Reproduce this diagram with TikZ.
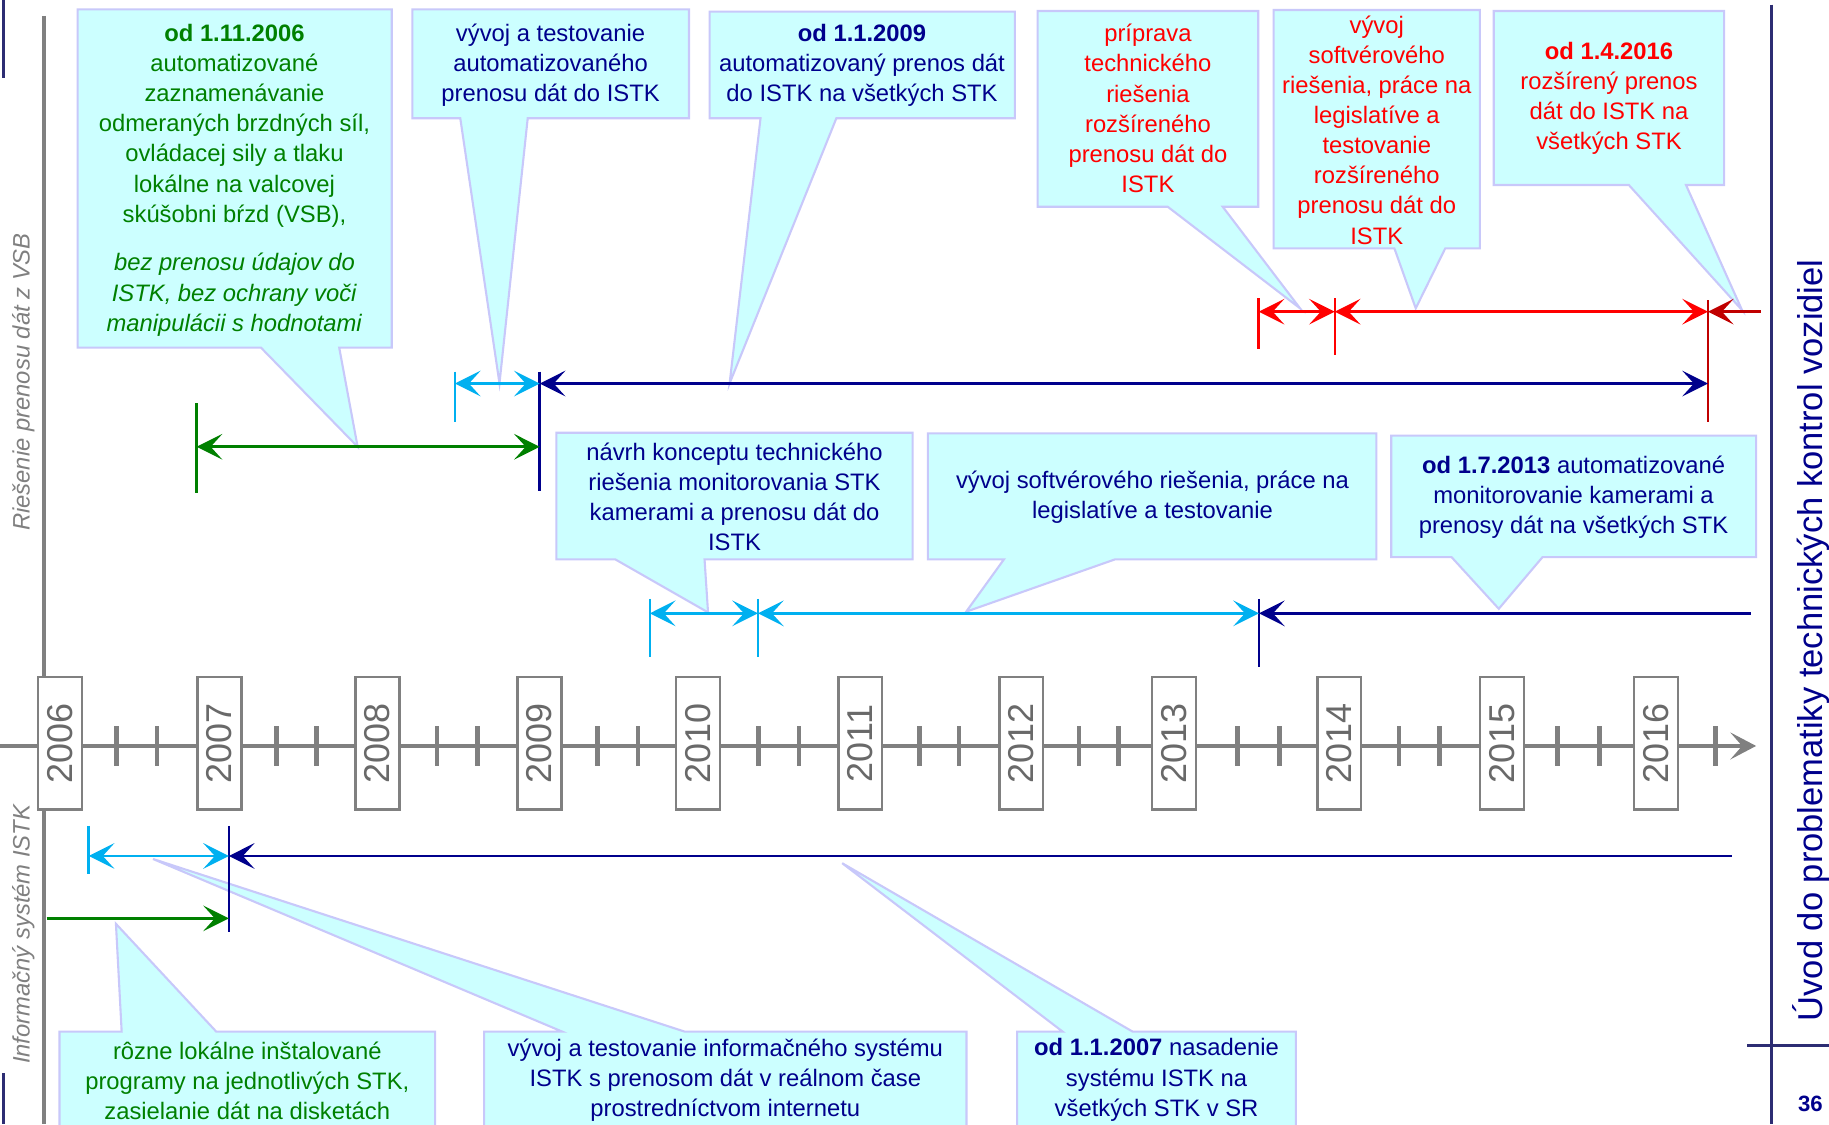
\documentclass[tikz,border=0pt]{standalone}
\usepackage{fontspec}
\setmainfont{Liberation Sans}
\usetikzlibrary{arrows.meta}

\definecolor{calloutfill}{RGB}{204,255,255}
\definecolor{calloutedge}{RGB}{200,200,250}
\definecolor{navy}{RGB}{0,0,140}
\definecolor{dkgreen}{RGB}{0,128,0}
\definecolor{skyblue}{RGB}{0,176,240}
\definecolor{axisgray}{RGB}{128,128,128}
\definecolor{yeartext}{RGB}{105,105,105}
\definecolor{darkred}{RGB}{192,0,0}
\definecolor{framenavy}{RGB}{45,45,115}

\tikzset{
  callout/.style={fill=calloutfill, draw=calloutedge, line width=0.9pt, line join=miter},
  note/.style={align=center, inner sep=0pt, font=\fontsize{10.2}{12.9}\selectfont},
  spanhead/.tip={Stealth[length=11pt,width=11pt,inset=5pt]},
  span/.style={line width=1.1pt},
  endmark/.style={line width=1.1pt},
  yearbox/.style={draw=axisgray, fill=white, line width=1pt, rotate=90,
    minimum width=56.75pt, minimum height=18.75pt, inner sep=0pt,
    text=yeartext, font=\fontsize{15.4}{15.4}\selectfont},
  sidelabel/.style={rotate=90, inner sep=0pt, text=axisgray,
    font=\fontsize{10.2}{12}\selectfont\itshape},
}

\begin{document}
\begin{tikzpicture}[x=0.5pt, y=-0.5pt]
\useasboundingbox (0,0) rectangle (1568,964);
\fill[white] (0,0) rectangle (1568,964);
\clip (0,0) rectangle (1568,964);

% slide frame
\draw[framenavy, line width=1.3pt] (3,0) -- (3,67);
\draw[framenavy, line width=1.3pt] (3,920) -- (3,964);
\draw[framenavy, line width=1.2pt] (1518.7,4) -- (1518.7,964);
\draw[framenavy, line width=1.2pt] (1498,896) -- (1568,896);
\node[font=\fontsize{9.5}{10}\selectfont\bfseries, text=navy, inner sep=0pt] (pgnum) at (1552,946) {36};
\node[rotate=90, inner sep=0pt, text=navy, font=\fontsize{14.8}{16}\selectfont] (title) at (1553,549)
  {Úvod do problematiky technických kontrol vozidiel};

% left separator and row labels
\draw[axisgray, line width=1.85pt] (38,13.7) -- (38,964);
\node[sidelabel] (lblvsb) at (20,327.5) {Riešenie prenosu dát z VSB};
\node[sidelabel] (lblistk) at (20,801) {Informačný systém ISTK};

% ---------- callouts, upper part ----------
\draw[callout] (66.6,8) -- (335.8,8) -- (335.8,298) -- (290.8,298) -- (306.6,383) -- (223.7,298) -- (66.6,298) -- cycle;
\node[note, text=dkgreen] (tA) at (201,154.5) {\textbf{od 1.11.2006}\\automatizované\\zaznamenávanie\\odmeraných brzdných síl,\\ovládacej sily a tlaku\\lokálne na valcovej\\skúšobni bŕzd (VSB),\\[8pt]\textit{bez prenosu údajov do}\\\textit{ISTK, bez ochrany voči}\\\textit{manipulácii s hodnotami}};

\draw[callout] (353.5,8) -- (590.7,8) -- (590.7,101.4) -- (452.4,101.4) -- (428.2,328.6) -- (394.6,101.4) -- (353.5,101.4) -- cycle;
\node[note, text=navy] (tB) at (472,56) {vývoj a testovanie\\automatizovaného\\prenosu dát do ISTK};

\draw[callout] (608.4,10) -- (870,10) -- (870,101.4) -- (717,101.4) -- (625.5,328.6) -- (652,101.4) -- (608.4,101.4) -- cycle;
\node[note, text=navy] (tC) at (739,56) {\textbf{od 1.1.2009}\\automatizovaný prenos dát\\do ISTK na všetkých STK};

\draw[callout] (889.5,9.4) -- (1078.7,9.4) -- (1078.7,177.2) -- (1048.2,177.2) -- (1114.5,264.3) -- (1001,177.2) -- (889.5,177.2) -- cycle;
\node[note, text=red] (tD) at (984.1,93) {príprava\\technického\\riešenia\\rozšíreného\\prenosu dát do\\ISTK};

\draw[callout] (1091.8,8.6) -- (1268.7,8.6) -- (1268.7,212.9) -- (1239,212.9) -- (1213.7,264.3) -- (1195.4,212.9) -- (1091.8,212.9) -- cycle;
\node[note, text=red] (tE) at (1180.3,111.5) {vývoj\\softvérového\\riešenia, práce na\\legislatíve a\\testovanie\\rozšíreného\\prenosu dát do\\ISTK};

\draw[callout] (1280.6,9.4) -- (1478.1,9.4) -- (1478.1,158.6) -- (1445.4,158.6) -- (1493.4,265.8) -- (1396.4,158.6) -- (1280.6,158.6) -- cycle;
\node[note, text=red] (tF) at (1379.4,84.5) {\textbf{od 1.4.2016}\\rozšírený prenos\\dát do ISTK na\\všetkých STK};

% ---------- callouts, middle part ----------
\draw[callout] (477,371) -- (782.4,371) -- (782.4,479.5) -- (604,479.5) -- (607,525) -- (527.4,479.5) -- (477,479.5) -- cycle;
\node[note, text=navy] (tG) at (629.7,425.8) {návrh konceptu technického\\riešenia monitorovania STK\\kamerami a prenosu dát do\\ISTK};

\draw[callout] (795.5,371.5) -- (1180,371.5) -- (1180,479.5) -- (956,479.5) -- (828.3,524.4) -- (860.7,479.5) -- (795.5,479.5) -- cycle;
\node[note, text=navy] (tH) at (988,426.5) {vývoj softvérového riešenia, práce na\\legislatíve a testovanie};

\draw[callout] (1192.7,373.5) -- (1505.5,373.5) -- (1505.5,477.6) -- (1322.4,477.6) -- (1284.9,521.9) -- (1244.4,477.6) -- (1192.7,477.6) -- cycle;
\node[note, text=navy] (tI) at (1349,426.5) {\textbf{od 1.7.2013} automatizované\\monitorovanie kamerami a\\prenosy dát na všetkých STK};

% ---------- callouts, lower part ----------
\draw[callout] (51,884.4) -- (104.3,884.4) -- (99.4,792) -- (185.4,884.4) -- (373,884.4) -- (373,980) -- (51,980) -- cycle;
\node[note, text=dkgreen] (tJ) at (212,926.4) {rôzne lokálne inštalované\\programy na jednotlivých STK,\\zasielanie dát na disketách};

\draw[callout] (415,884.4) -- (482,884.4) -- (131.2,736.4) -- (587,884.4) -- (828.6,884.4) -- (828.6,980) -- (415,980) -- cycle;
\node[note, text=navy] (tK) at (621.8,925.8) {vývoj a testovanie informačného systému\\ISTK s prenosom dát v reálnom čase\\prostredníctvom internetu};

\draw[callout] (872,884.4) -- (911,884.4) -- (722,740) -- (971,884.4) -- (1111,884.4) -- (1111,980) -- (872,980) -- cycle;
\node[note, text=navy] (tL) at (991.5,925.8) {\textbf{od 1.1.2007} nasadenie\\systému ISTK na\\všetkých STK v SR};

% ---------- time axis ----------
\coordinate (axstart) at (0,639.5);
\coordinate (axend) at (1505.5,639.5);
\draw[axisgray, line width=1.9pt, -{Stealth[length=11pt,width=11.5pt,inset=5pt]}] (axstart) -- (axend);
\foreach \tx in {100,134.5,237,271.6,374.6,409.1,512.5,547,650,685,788,822,925,959,1061,1097,1199.3,1233.9,1335.4,1371.4,1470.4}
  \draw[axisgray, line width=2pt] (\tx,622.4) -- (\tx,656.8);
\foreach \yr/\yx in {2006/51.4,2007/188.2,2008/323.6,2009/462.5,2010/598.5,2011/737.5,2012/875.5,2013/1006.5,2014/1148.1,2015/1287.6,2016/1419.6}
  \node[yearbox] (y\yr) at (\yx,637.3) {\yr};

% ---------- spans: data transfer from the brake tester ----------
\coordinate (gA) at (168.6,383);   \coordinate (gB) at (462.7,383);
\coordinate (cA) at (390,328.8);   \coordinate (cB) at (462.7,328.8);
\coordinate (nA) at (462.7,328.8); \coordinate (nB) at (1464.2,328.8);
\coordinate (rA) at (1079.1,267.2); \coordinate (rB) at (1144.3,267.2);
\coordinate (rC) at (1464.2,267.2); \coordinate (rD) at (1510,267.2);

\draw[dkgreen, endmark] (168.6,345.8) -- (168.6,422.4);
\draw[skyblue, endmark] (390,318.6) -- (390,361.5);
\draw[navy, endmark] (462.7,318.6) -- (462.7,420.6);
\draw[red, endmark] (1079.1,255.7) -- (1079.1,299.5);
\draw[red, endmark] (1144.3,255.7) -- (1144.3,304.3);
\draw[darkred, endmark] (1464.2,257.2) -- (1464.2,361.5);

\draw[dkgreen, span, spanhead-spanhead] (gA) -- (gB);
\draw[skyblue, span, spanhead-spanhead] (cA) -- (cB);
\draw[navy, span, spanhead-spanhead] (nA) -- (nB);
\draw[red, span, spanhead-spanhead] (rA) -- (rB);
\draw[red, span, spanhead-spanhead] (rB) -- (rC);
\draw[darkred, span, spanhead-] (rC) -- (rD);

% ---------- spans: camera monitoring ----------
\coordinate (mA) at (557.1,525.8); \coordinate (mB) at (649.8,525.8);
\coordinate (mC) at (1079.3,525.8); \coordinate (mD) at (1501,525.8);
\draw[skyblue, endmark] (557.1,513.5) -- (557.1,563.5);
\draw[skyblue, endmark] (649.8,513.5) -- (649.8,563.5);
\draw[navy, endmark] (1079.3,513.5) -- (1079.3,571.5);
\draw[skyblue, span, spanhead-spanhead] (mA) -- (mB);
\draw[skyblue, span, spanhead-spanhead] (mB) -- (mC);
\draw[navy, span, spanhead-] (mC) -- (mD);

% ---------- spans: ISTK information system ----------
\coordinate (iA) at (76.1,733.8); \coordinate (iB) at (196.2,733.8);
\coordinate (iC) at (1484.5,733.8);
\coordinate (lA) at (40,787.3); \coordinate (lB) at (196.2,787.3);
\draw[skyblue, endmark] (76.1,708.1) -- (76.1,749.5);
\draw[navy, endmark] (196.2,708.1) -- (196.2,798.7);
\draw[skyblue, span, spanhead-spanhead] (iA) -- (iB);
\draw[navy, span, spanhead-] (iB) -- (iC);
\draw[dkgreen, span, -spanhead] (lA) -- (lB);
\end{tikzpicture}
\end{document}
